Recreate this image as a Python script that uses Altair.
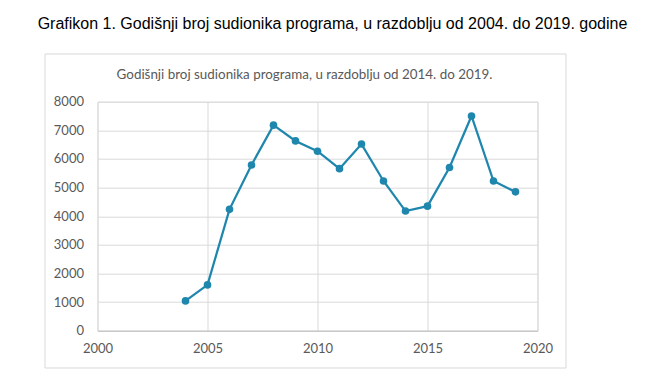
import altair as alt
import pandas as pd

years = [2004, 2005, 2006, 2007, 2008, 2009, 2010, 2011, 2012, 2013, 2014, 2015, 2016, 2017, 2018, 2019]
participants = [1040, 1600, 4240, 5790, 7180, 6630, 6270, 5660, 6520, 5230, 4180, 4350, 5700, 7500, 5230, 4850]
x_ticks = [2000, 2005, 2010, 2015, 2020]
y_ticks = [0, 1000, 2000, 3000, 4000, 5000, 6000, 7000, 8000]

main_title = "Grafikon 1. Godišnji broj sudionika programa, u razdoblju od 2004. do 2019. godine"
inner_title = "Godišnji broj sudionika programa, u razdoblju od 2014. do 2019."

df = pd.DataFrame({"year": years, "value": participants})

W, H = 440, 229
LABEL_FONT = "Lato"
GRAY = "#595959"
LINE = "#1f87ad"

frame = alt.Chart(pd.DataFrame({"d": [0]})).mark_rect(
    fillOpacity=0, stroke="#d9d9d9", strokeWidth=1
).encode(
    x=alt.value(-52.5), x2=alt.value(468.5), y=alt.value(-47.7), y2=alt.value(266.3)
)

subtitle = alt.Chart(pd.DataFrame({"t": [inner_title]})).mark_text(
    font=LABEL_FONT, fontSize=13.4, color=GRAY, align="center", baseline="middle"
).encode(text="t:N", x=alt.value(207), y=alt.value(-26.7))

base = alt.Chart(df).encode(
    x=alt.X("year:Q", scale=alt.Scale(domain=[2000, 2020], nice=False),
            axis=alt.Axis(values=x_ticks, format="d", title=None, grid=True,
                          gridColor="#d9d9d9", domainColor="#bfbfbf", ticks=False,
                          labelFont=LABEL_FONT, labelFontSize=13, labelColor=GRAY,
                          labelPadding=12, labelFlush=False)),
    y=alt.Y("value:Q", scale=alt.Scale(domain=[0, 8000], nice=False),
            axis=alt.Axis(values=y_ticks, format="d", title=None, grid=True,
                          gridColor="#d9d9d9", domain=False, ticks=False,
                          labelFont=LABEL_FONT, labelFontSize=13, labelColor=GRAY,
                          labelPadding=14)),
)

line = base.mark_line(color=LINE, strokeWidth=2.25)
pts = base.mark_circle(color=LINE, size=58, opacity=1)

chart = alt.layer(frame, subtitle, line, pts).properties(
    width=W, height=H,
    autosize=alt.AutoSizeParams(type="none"),
    padding={"left": 89.5, "top": 93.7, "right": 650 - 16 - 89.5 - W, "bottom": 384 - 16 - 93.7 - H},
    title=alt.TitleParams(main_title, font="Liberation Sans", fontSize=16, fontWeight="normal",
                          color="black", anchor="middle", frame="group", dx=15,
                          baseline="alphabetic", offset=9),
).configure_view(stroke=None).configure(background="white")

chart.save("out.html", embed_options={"renderer": "svg", "actions": False})
